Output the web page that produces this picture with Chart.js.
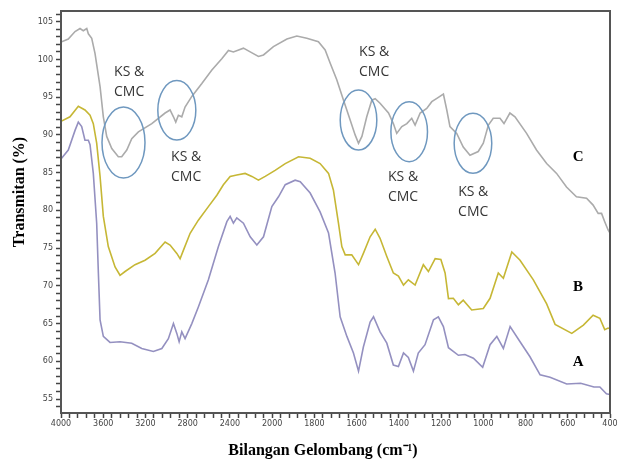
<!DOCTYPE html>
<html>
<head>
<meta charset="utf-8">
<script src="https://cdn.jsdelivr.net/npm/chart.js@4.4.1/dist/chart.umd.min.js"></script>
<style>
  html, body { margin: 0; padding: 0; background: #fff; }
  #wrap { width: 622px; height: 460px; }
</style>
</head>
<body>
<div id="wrap"><canvas id="ftir" width="622" height="460"></canvas></div>
<script>
// wavenumber (cm-1) and transmittance (%)
const wnC = [4000, 3931, 3867, 3820, 3789, 3756, 3741, 3709, 3678, 3630, 3599, 3567, 3519, 3457, 3425, 3377, 3330, 3267, 3140, 3014, 2967, 2935, 2913, 2888, 2856, 2825, 2761, 2666, 2571, 2477, 2414, 2367, 2272, 2208, 2130, 2082, 1994, 1930, 1883, 1836, 1781, 1749, 1725, 1694, 1662, 1631, 1607, 1591, 1575, 1552, 1528, 1512, 1489, 1449, 1426, 1410, 1386, 1362, 1339, 1323, 1299, 1268, 1244, 1220, 1189, 1173, 1158, 1126, 1095, 1063, 1024, 1000, 976, 953, 921, 902, 874, 850, 795, 748, 700, 653, 606, 559, 511, 480, 456, 440, 425, 409, 400];
const tC = [102.3, 102.7, 103.7, 104.1, 103.8, 104.1, 103.4, 102.8, 100.8, 96.4, 92.4, 89.8, 88.2, 87.1, 87.1, 88.0, 89.5, 90.4, 91.5, 92.9, 93.3, 92.4, 91.7, 92.6, 92.4, 93.7, 95.1, 96.8, 98.6, 100.1, 101.2, 101.0, 101.5, 101.0, 100.4, 100.6, 101.7, 102.7, 103.1, 102.8, 102.35, 101.25, 99.5, 97.3, 94.6, 92.0, 90.0, 88.9, 89.8, 92.4, 94.6, 94.8, 94.2, 92.9, 91.5, 90.2, 91.1, 91.5, 92.2, 91.3, 92.9, 93.5, 94.4, 94.85, 95.4, 93.3, 91.1, 90.2, 88.4, 87.3, 87.8, 88.9, 91.3, 92.2, 92.2, 91.5, 92.9, 92.4, 90.2, 88.0, 86.2, 84.9, 83.1, 81.8, 81.6, 80.7, 79.6, 79.6, 78.5, 77.4, 77.0];

const wnB = [4000, 3915, 3836, 3773, 3725, 3694, 3662, 3630, 3599, 3552, 3488, 3441, 3393, 3299, 3204, 3109, 3014, 2967, 2903, 2872, 2841, 2777, 2699, 2604, 2524, 2462, 2398, 2335, 2256, 2192, 2130, 2066, 1986, 1938, 1875, 1820, 1773, 1733, 1710, 1686, 1670, 1654, 1623, 1591, 1568, 1536, 1512, 1489, 1457, 1426, 1402, 1378, 1355, 1323, 1284, 1260, 1228, 1201, 1181, 1165, 1142, 1118, 1095, 1055, 1000, 968, 929, 905, 865, 826, 763, 700, 660, 581, 526, 480, 448, 425, 409, 400];
const tB = [91.8, 92.4, 93.8, 93.3, 92.6, 91.5, 88.9, 84.5, 79.2, 75.2, 72.5, 71.4, 71.9, 72.8, 73.4, 74.3, 75.8, 75.4, 74.3, 73.6, 74.7, 76.96, 78.7, 80.5, 82.0, 83.4, 84.5, 84.7, 84.9, 84.5, 84.0, 84.5, 85.3, 86.2, 87.1, 86.9, 86.2, 84.9, 82.7, 78.3, 75.2, 74.1, 74.1, 72.8, 74.3, 76.5, 77.5, 76.3, 73.9, 71.7, 71.3, 70.1, 70.8, 70.1, 72.8, 71.9, 73.6, 73.5, 71.7, 68.3, 68.35, 67.5, 68.1, 66.8, 67.0, 68.35, 71.7, 71.0, 74.5, 73.4, 70.8, 67.6, 64.9, 63.7, 64.8, 66.1, 65.7, 64.2, 64.4, 64.3];

const wnA = [4000, 3931, 3867, 3836, 3804, 3773, 3741, 3725, 3694, 3662, 3646, 3630, 3599, 3536, 3441, 3330, 3235, 3125, 3045, 2983, 2935, 2903, 2881, 2856, 2825, 2761, 2699, 2604, 2509, 2429, 2398, 2367, 2335, 2272, 2208, 2145, 2082, 2003, 1970, 1938, 1891, 1867, 1820, 1773, 1733, 1702, 1678, 1646, 1615, 1591, 1568, 1536, 1520, 1489, 1457, 1426, 1402, 1378, 1355, 1331, 1308, 1276, 1236, 1213, 1189, 1165, 1118, 1087, 1047, 1003, 968, 936, 905, 873, 826, 779, 731, 684, 605, 539, 476, 448, 417, 400];
const tA = [86.8, 88.0, 90.6, 91.7, 91.1, 89.3, 89.3, 88.7, 84.9, 78.3, 71.7, 65.5, 63.3, 62.5, 62.6, 62.4, 61.7, 61.3, 61.7, 63.0, 65.0, 63.7, 62.6, 63.9, 63.0, 65.0, 67.2, 70.8, 75.2, 78.5, 79.2, 78.3, 79.0, 78.3, 76.5, 75.4, 76.5, 80.5, 81.8, 83.4, 84.0, 83.8, 82.3, 79.8, 77.0, 71.7, 65.9, 63.3, 61.1, 58.7, 61.9, 65.2, 65.9, 63.9, 62.4, 59.5, 59.3, 61.1, 60.5, 58.7, 61.1, 62.2, 65.5, 65.9, 64.6, 61.8, 60.8, 60.9, 60.4, 59.2, 62.2, 63.3, 61.7, 64.6, 62.6, 60.6, 58.2, 57.9, 57.0, 57.1, 56.6, 56.6, 55.7, 55.6];

const seriesNames = ["C", "B", "A"];
const xTickLabels = [4000, 3600, 3200, 2800, 2400, 2000, 1800, 1600, 1400, 1200, 1000, 800, 600, 400];

// circled bands and their "KS & CMC" notes
const circleWn = [3408, 2903, 1591, 1351, 1049];
const circleT = [89.0, 93.26, 91.97, 90.42, 88.89];
const noteWn = [3355, 2815, 1517, 1380, 1048];
const noteT = [97.0, 85.8, 99.65, 83.1, 81.1];
const noteText = ["KS &", "CMC"];

// the x axis is drawn at double scale below 2000 cm-1
function toU(w) { return w > 2000 ? 2000 + (w - 2000) / 2 : w; }
function fromU(u) { return u > 2000 ? 2000 + (u - 2000) * 2 : u; }

function pts(wn, t) {
  return wn.map((w, i) => ({ x: toU(w), y: t[i] }));
}

const labelPlugin = {
  id: "notes",
  afterDatasetsDraw(chart) {
    const ctx = chart.ctx;
    const xs = chart.scales.x;
    const ys = chart.scales.y;
    const area = chart.chartArea;
    ctx.save();

    // frame round the plot
    ctx.strokeStyle = "#555";
    ctx.lineWidth = 2;
    ctx.strokeRect(area.left, area.top, area.right - area.left, area.bottom - area.top);

    const radii = [[21.5, 35.5], [19, 29.7], [18.3, 30], [18.3, 30], [18.8, 30]];
    ctx.strokeStyle = "#6f98bf";
    ctx.lineWidth = 1.5;
    circleWn.forEach((w, i) => {
      ctx.beginPath();
      ctx.ellipse(xs.getPixelForValue(toU(w)), ys.getPixelForValue(circleT[i]), radii[i][0], radii[i][1], 0, 0, Math.PI * 2);
      ctx.stroke();
    });

    ctx.fillStyle = "#363636";
    ctx.font = "14px 'Open Sans'";
    ctx.textAlign = "center";
    ctx.textBaseline = "middle";
    noteWn.forEach((w, i) => {
      const px = xs.getPixelForValue(toU(w));
      const py = ys.getPixelForValue(noteT[i]);
      ctx.fillText(noteText[0], px, py - 10);
      ctx.fillText(noteText[1], px, py + 10);
    });

    // series letters at the right
    ctx.fillStyle = "#000";
    ctx.font = "bold 15px 'Liberation Serif'";
    const letterT = [87.07, 69.84, 59.9];
    seriesNames.forEach((s, i) => {
      ctx.fillText(s, xs.getPixelForValue(toU(551)), ys.getPixelForValue(letterT[i]));
    });

    // axis titles (sit a little off the plot centre in the original)
    ctx.font = "bold 16px 'Liberation Serif'";
    ctx.fillText("Bilangan Gelombang (cm⁻¹)", 323, 451);
    ctx.translate(20, 192);
    ctx.rotate(-Math.PI / 2);
    ctx.fillText("Transmitan (%)", 0, 0);
    ctx.restore();
  }
};

new Chart(document.getElementById("ftir"), {
  type: "line",
  data: {
    datasets: [
      { label: seriesNames[0], data: pts(wnC, tC), borderColor: "#ababab", borderWidth: 1.6 },
      { label: seriesNames[1], data: pts(wnB, tB), borderColor: "#c6b735", borderWidth: 1.6 },
      { label: seriesNames[2], data: pts(wnA, tA), borderColor: "#9490c0", borderWidth: 1.6 }
    ]
  },
  options: {
    responsive: false,
    animation: false,
    devicePixelRatio: 1,
    elements: { point: { radius: 0 }, line: { tension: 0 } },
    layout: { padding: { left: 8, right: 12, top: 11, bottom: 0 } },
    plugins: { legend: { display: false }, tooltip: { enabled: false } },
    scales: {
      x: {
        type: "linear",
        reverse: true,
        min: 400,
        max: 3000,
        afterFit: s => { s.height = 47; },
        border: { display: true, color: "#444", width: 2 },
        grid: { drawOnChartArea: false, tickLength: 5, tickColor: "#444", tickWidth: 1.5 },
        ticks: {
          stepSize: 40,
          autoSkip: false,
          maxRotation: 0,
          padding: 1,
          color: "#444",
          font: { family: "DejaVu Sans", size: 8 },
          callback: v => {
            const w = fromU(Math.round(v));
            return Math.round(v) % 200 === 0 && xTickLabels.includes(w) ? String(w) : "";
          }
        }
      },
      y: {
        min: 53.15,
        max: 106.42,
        afterFit: s => { s.width = 53; },
        border: { display: true, color: "#444", width: 2 },
        grid: { drawOnChartArea: false, tickLength: 5, tickColor: "#444", tickWidth: 1.5 },
        ticks: {
          stepSize: 1,
          includeBounds: false,
          autoSkip: false,
          padding: 3,
          color: "#444",
          font: { family: "DejaVu Sans", size: 8 },
          callback: v => (Math.round(v) % 5 === 0 ? String(Math.round(v)) : "")
        }
      }
    }
  },
  plugins: [labelPlugin]
});
</script>
</body>
</html>
